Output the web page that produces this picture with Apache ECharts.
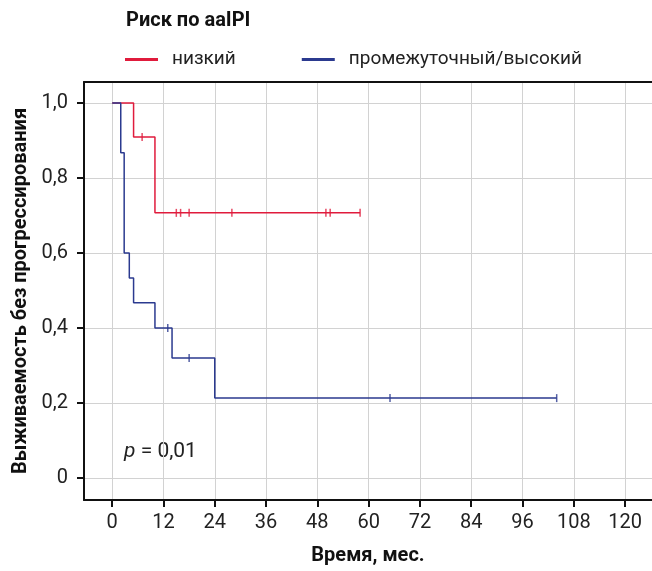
<!DOCTYPE html>
<html>
<head>
<meta charset="utf-8">
<script src="https://cdn.jsdelivr.net/npm/echarts@6/dist/echarts.min.js"></script>
<style>
  html, body { margin: 0; padding: 0; background: #fff; }
  #chart { width: 652px; height: 571px; }
</style>
</head>
<body>
<div id="chart"></div>
<script>
// данные кривых Каплана–Мейера (время в месяцах, доля без прогрессирования)
const lowTimes = [0, 5, 10, 58];
const lowSurv = [1, 0.909, 0.707, 0.707];
const lowCensorTimes = [7, 15, 16, 18, 28, 50, 51, 58];
const lowCensorSurv = [0.909, 0.707, 0.707, 0.707, 0.707, 0.707, 0.707, 0.707];

const highTimes = [0, 2, 2.8, 4, 5, 10, 14, 24, 104];
const highSurv = [1, 0.867, 0.6, 0.533, 0.467, 0.4, 0.32, 0.213, 0.213];
const highCensorTimes = [13, 18, 65, 104];
const highCensorSurv = [0.4, 0.32, 0.213, 0.213];

const xTicks = [0, 12, 24, 36, 48, 60, 72, 84, 96, 108, 120];
const yTicks = [0, 0.2, 0.4, 0.6, 0.8, 1.0];

const groupNames = ['низкий', 'промежуточный/высокий'];

const red = '#e01b3c';
const blue = '#2b3a8f';
const font = 'Roboto, "Noto Sans", sans-serif';

function pairs(xs, ys) {
    return xs.map(function(x, i) { return [x, ys[i]]; });
}

document.addEventListener('DOMContentLoaded', function() {
    const chart = echarts.init(document.getElementById('chart'));
    chart.setOption({
        animation: false,
        textStyle: { fontFamily: font },
        title: {
            text: 'Риск по aaIPI',
            left: 121,
            top: 6,
            textStyle: { fontFamily: font, fontSize: 20, fontWeight: 'bold', color: '#111' }
        },
        legend: {
            data: groupNames,
            left: 120,
            top: 45,
            icon: 'rect',
            itemWidth: 33,
            itemHeight: 3,
            itemGap: 66,
            textStyle: { fontFamily: font, fontSize: 19, color: '#222', padding: [0, 0, 0, 9] }
        },
        grid: { left: 84, right: 0, top: 82, bottom: 71, containLabel: false },
        xAxis: [{
            type: 'value',
            min: -6.6,
            max: 126.3,
            name: 'Время, мес.',
            nameLocation: 'middle',
            nameGap: 46,
            nameTextStyle: { fontFamily: font, fontSize: 20, fontWeight: 'bold', color: '#111' },
            axisLine: { onZero: false, lineStyle: { color: '#111', width: 2 } },
            axisTick: { show: true, length: 7, customValues: xTicks, lineStyle: { color: '#111', width: 2 } },
            axisLabel: { customValues: xTicks, margin: 13, fontFamily: font, fontSize: 20, color: '#222' },
            splitLine: { show: true, lineStyle: { color: '#d2d2d2', width: 1 } }
        }, {
            type: 'value',
            position: 'top',
            min: -6.6,
            max: 126.3,
            axisLine: { onZero: false, lineStyle: { color: '#111', width: 2 } },
            axisTick: { show: false },
            axisLabel: { show: false },
            splitLine: { show: false }
        }],
        yAxis: {
            type: 'value',
            min: -0.0587,
            max: 1.056,
            name: 'Выживаемость без прогрессирования',
            nameLocation: 'middle',
            nameGap: 52,
            nameTextStyle: { fontFamily: font, fontSize: 20, fontWeight: 'bold', color: '#111' },
            axisLine: { show: true, onZero: false, lineStyle: { color: '#111', width: 2 } },
            axisTick: { show: true, length: 7, customValues: yTicks, lineStyle: { color: '#111', width: 2 } },
            axisLabel: {
                customValues: yTicks,
                margin: 16,
                fontFamily: font,
                fontSize: 20,
                color: '#222',
                formatter: function(v) {
                    return v === 0 ? '0' : v.toFixed(1).replace('.', ',');
                }
            },
            splitLine: { show: true, lineStyle: { color: '#d2d2d2', width: 1 } }
        },
        graphic: [{
            type: 'text',
            left: 124,
            top: 441,
            style: {
                text: '{i|p} = 0,01',
                rich: {
                    i: { fontFamily: font, fontSize: 21, fontStyle: 'italic', fill: '#222' }
                },
                fontFamily: font,
                fontSize: 21,
                fill: '#222'
            }
        }],
        series: [{
            name: groupNames[0],
            type: 'line',
            step: 'end',
            data: pairs(lowTimes, lowSurv),
            showSymbol: false,
            symbol: 'none',
            color: red,
            lineStyle: { color: red, width: 1.5 },
            z: 3
        }, {
            name: groupNames[1],
            type: 'line',
            step: 'end',
            data: pairs(highTimes, highSurv),
            showSymbol: false,
            symbol: 'none',
            color: blue,
            lineStyle: { color: blue, width: 1.5 },
            z: 4
        }, {
            name: 'low-censor',
            type: 'scatter',
            data: pairs(lowCensorTimes, lowCensorSurv),
            symbol: 'rect',
            symbolSize: [1.5, 8],
            itemStyle: { color: red },
            z: 5
        }, {
            name: 'high-censor',
            type: 'scatter',
            data: pairs(highCensorTimes, highCensorSurv),
            symbol: 'rect',
            symbolSize: [1.5, 8],
            itemStyle: { color: blue },
            z: 5
        }]
    });

    window.addEventListener('resize', function() {
        chart.resize();
    });
});
</script>
</body>
</html>
